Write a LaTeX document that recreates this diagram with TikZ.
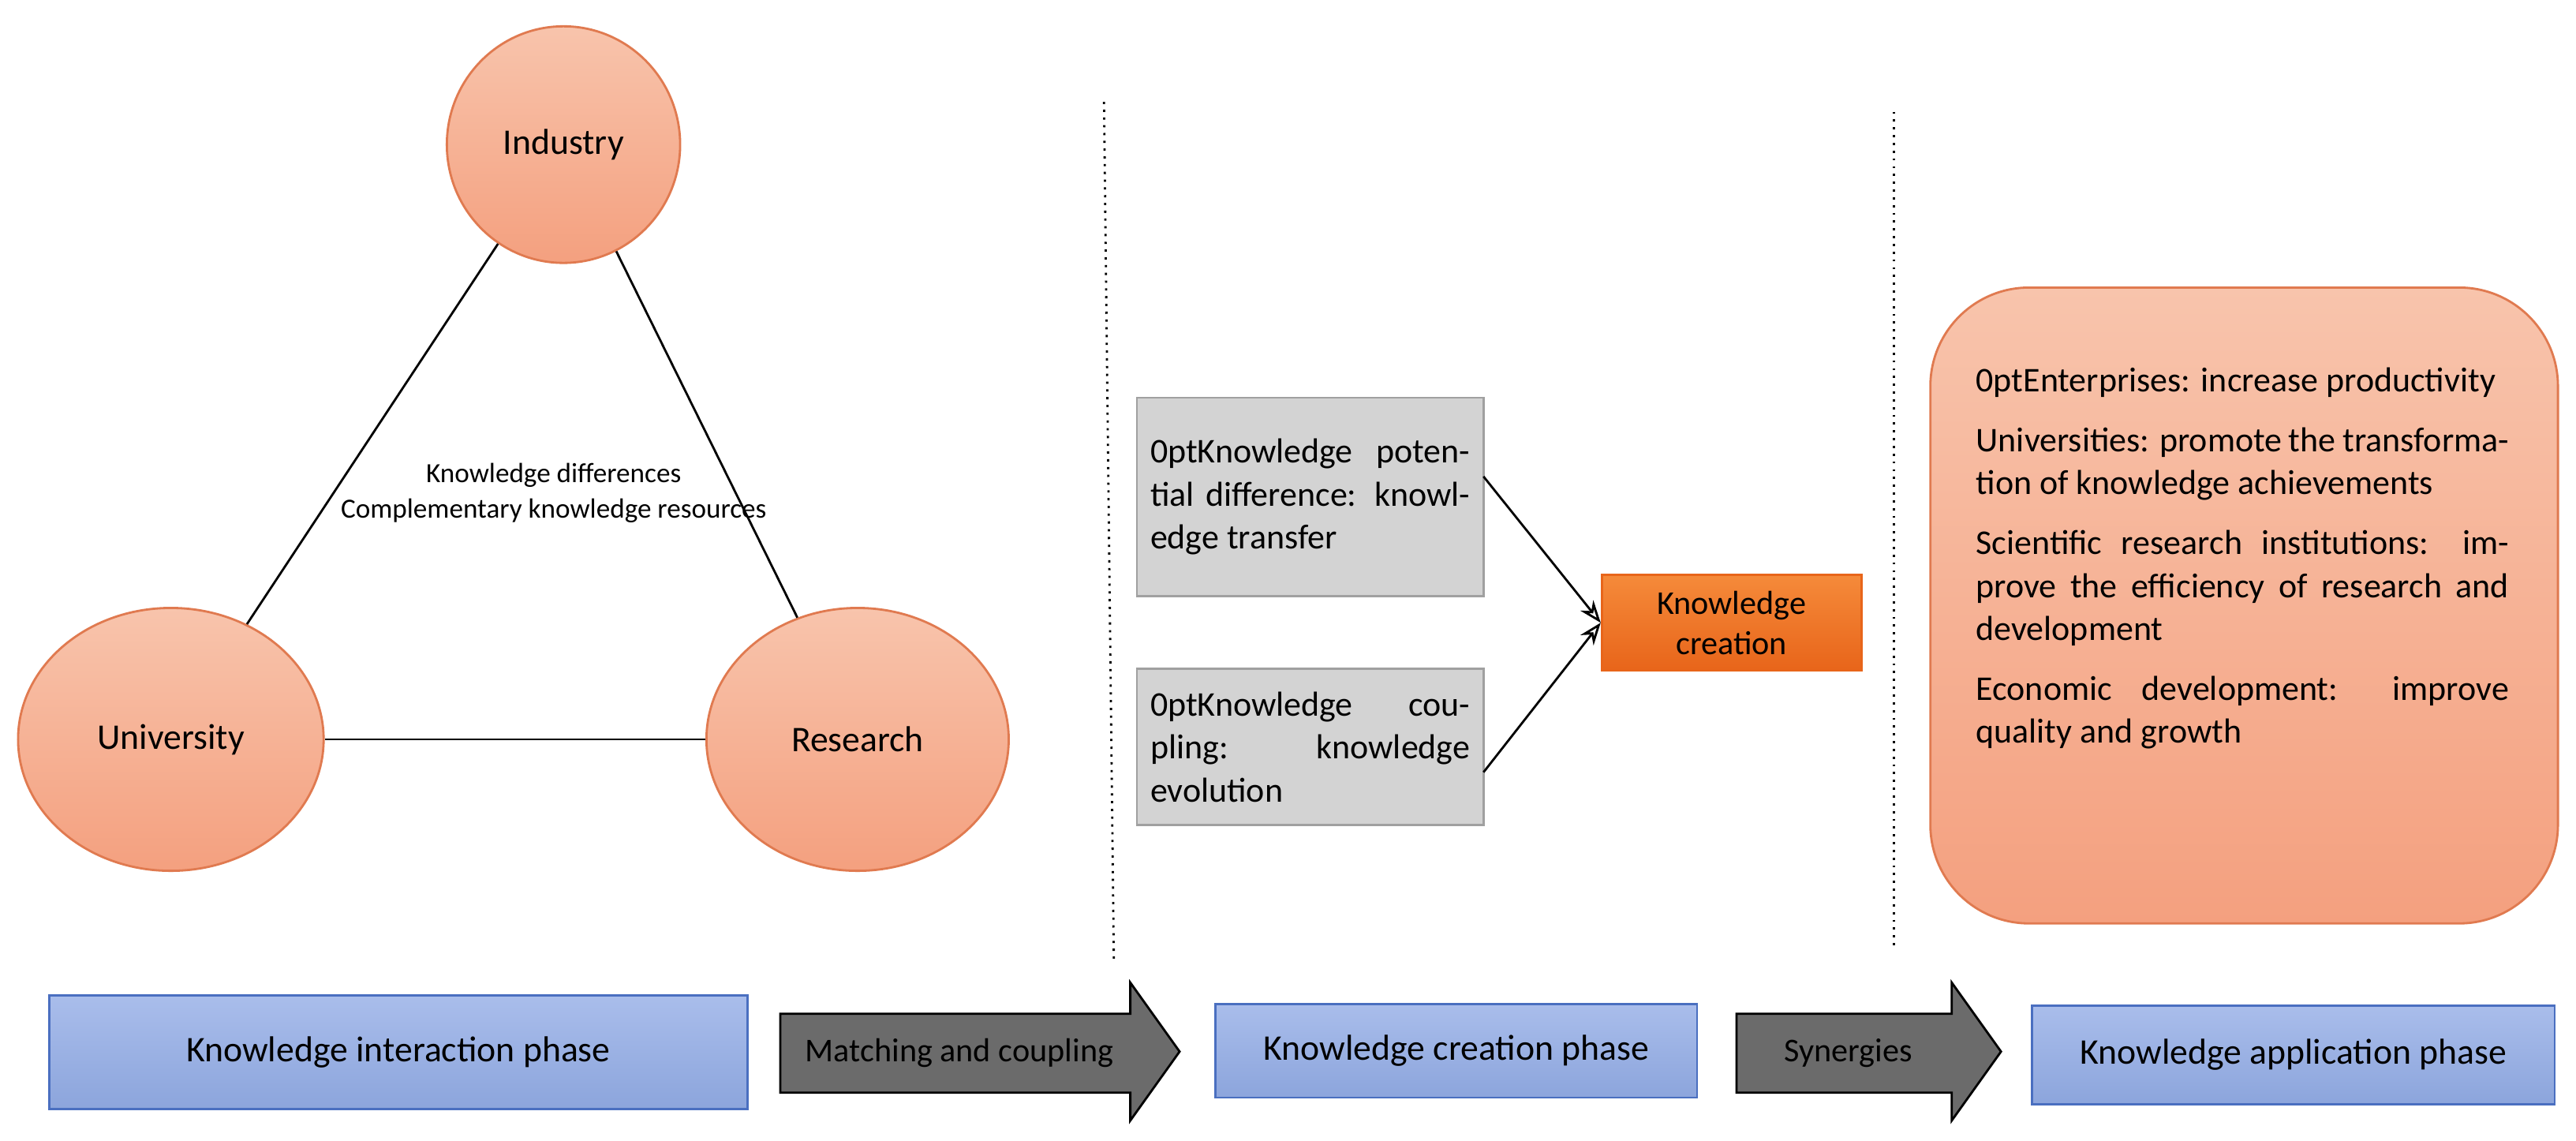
\documentclass[tikz,border=0pt]{standalone}
\usepackage{fontspec}
\setmainfont{Carlito}
\usetikzlibrary{shapes.geometric,arrows.meta}
\definecolor{salT}{HTML}{F8C4AC}
\definecolor{salB}{HTML}{F4A07F}
\definecolor{salE}{HTML}{E07A50}
\definecolor{bluT}{HTML}{A9BDEB}
\definecolor{bluB}{HTML}{8CA5DC}
\definecolor{bluE}{HTML}{4A6FC0}
\definecolor{gryF}{HTML}{D3D3D3}
\definecolor{gryE}{HTML}{A0A0A0}
\definecolor{orT}{HTML}{F58A3A}
\definecolor{orB}{HTML}{E8651A}
\begin{document}
\begin{tikzpicture}[x=0.02082cm,y=-0.02082cm,
  ell/.style={ellipse,draw=salE,line width=0.8pt,top color=salT,bottom color=salB,font=\fontsize{13}{15}\selectfont,inner sep=0pt},
  phase/.style={draw=bluE,line width=0.8pt,top color=bluT,bottom color=bluB,font=\fontsize{13}{15}\selectfont,inner sep=0pt},
  gbox/.style={draw=gryE,line width=0.8pt,fill=gryF,inner sep=0pt},
  bigarr/.style={draw=black,line width=0.8pt,fill=black!58},
  link/.style={line width=0.8pt},
  txt/.style={font=\fontsize{12.5}{15.5}\selectfont\hyphenpenalty=10000,align=justify}]
\useasboundingbox (0,0) rectangle (1568,694);
\node[ell,minimum width=142*0.02082cm,minimum height=144*0.02082cm] (ind) at (343,88) {Industry};
\node[ell,minimum width=186*0.02082cm,minimum height=160*0.02082cm] (uni) at (104,450) {University};
\node[ell,minimum width=184*0.02082cm,minimum height=160*0.02082cm] (res) at (522,450) {Research};
\draw[link] (ind) -- (uni);
\draw[link] (ind) -- (res);
\draw[link] (uni) -- (res);
\node[font=\fontsize{10}{13}\selectfont,align=center] (kd) at (337,300) {Knowledge differences\\Complementary knowledge resources};
\coordinate (d1a) at (672,62); \coordinate (d1b) at (678,585);
\coordinate (d2a) at (1153,68); \coordinate (d2b) at (1153,578);
\draw[dotted,line width=0.8pt] (d1a) -- (d1b);
\draw[dotted,line width=0.8pt] (d2a) -- (d2b);
\node[gbox,minimum width=211*0.02082cm,minimum height=121*0.02082cm] (g1) at (797.5,302.5) {};
\node[txt,text width=4.05cm] at (g1) {Knowledge potential difference: knowledge transfer};
\node[gbox,minimum width=211*0.02082cm,minimum height=95*0.02082cm] (g2) at (797.5,454.5) {};
\node[txt,text width=4.05cm] at (g2) {Knowledge coupling: knowledge evolution};
\node[draw=orB,line width=0.8pt,top color=orT,bottom color=orB,minimum width=158*0.02082cm,minimum height=58*0.02082cm,inner sep=0pt,align=center,font=\fontsize{12}{14.5}\selectfont] (kc) at (1054,379) {Knowledge\\creation};
\coordinate (s1) at (903,290);
\coordinate (s2) at (903,470);
\draw[-{Stealth[length=8pt,width=6pt,open]},link] (s1) -- (kc.west);
\draw[-{Stealth[length=8pt,width=6pt,open]},link] (s2) -- (kc.west);
\node[draw=salE,line width=0.8pt,top color=salT,bottom color=salB,rounded corners=1.25cm,minimum width=382*0.02082cm,minimum height=387*0.02082cm,inner sep=0pt] (big) at (1366,368.5) {};
\node[txt,text width=6.75cm,anchor=north] (bt) at (1365,218) {Enterprises: increase productivity\par\vspace{6pt}
Universities: promote the transformation of knowledge achievements\par\vspace{6pt}
Scientific research institutions: improve the efficiency of research and development\par\vspace{6pt}
Economic development: improve quality and growth};
\node[phase,minimum width=425*0.02082cm,minimum height=69*0.02082cm] (p1) at (242.5,640.5) {Knowledge interaction phase};
\draw[bigarr] (475,617) -- (688,617) -- (688,598) -- (718,640) -- (688,682) -- (688,665) -- (475,665) -- cycle;
\node[font=\fontsize{12}{14}\selectfont] (a1) at (584,641) {Matching and coupling};
\node[phase,minimum width=293*0.02082cm,minimum height=57*0.02082cm] (p2) at (886.5,639.5) {Knowledge creation phase};
\draw[bigarr] (1057,617) -- (1188,617) -- (1188,598) -- (1218,640) -- (1188,682) -- (1188,665) -- (1057,665) -- cycle;
\node[font=\fontsize{12}{14}\selectfont] (a2) at (1125,641) {Synergies};
\node[phase,minimum width=318*0.02082cm,minimum height=60*0.02082cm] (p3) at (1396,642) {Knowledge application phase};
\end{tikzpicture}
\end{document}
